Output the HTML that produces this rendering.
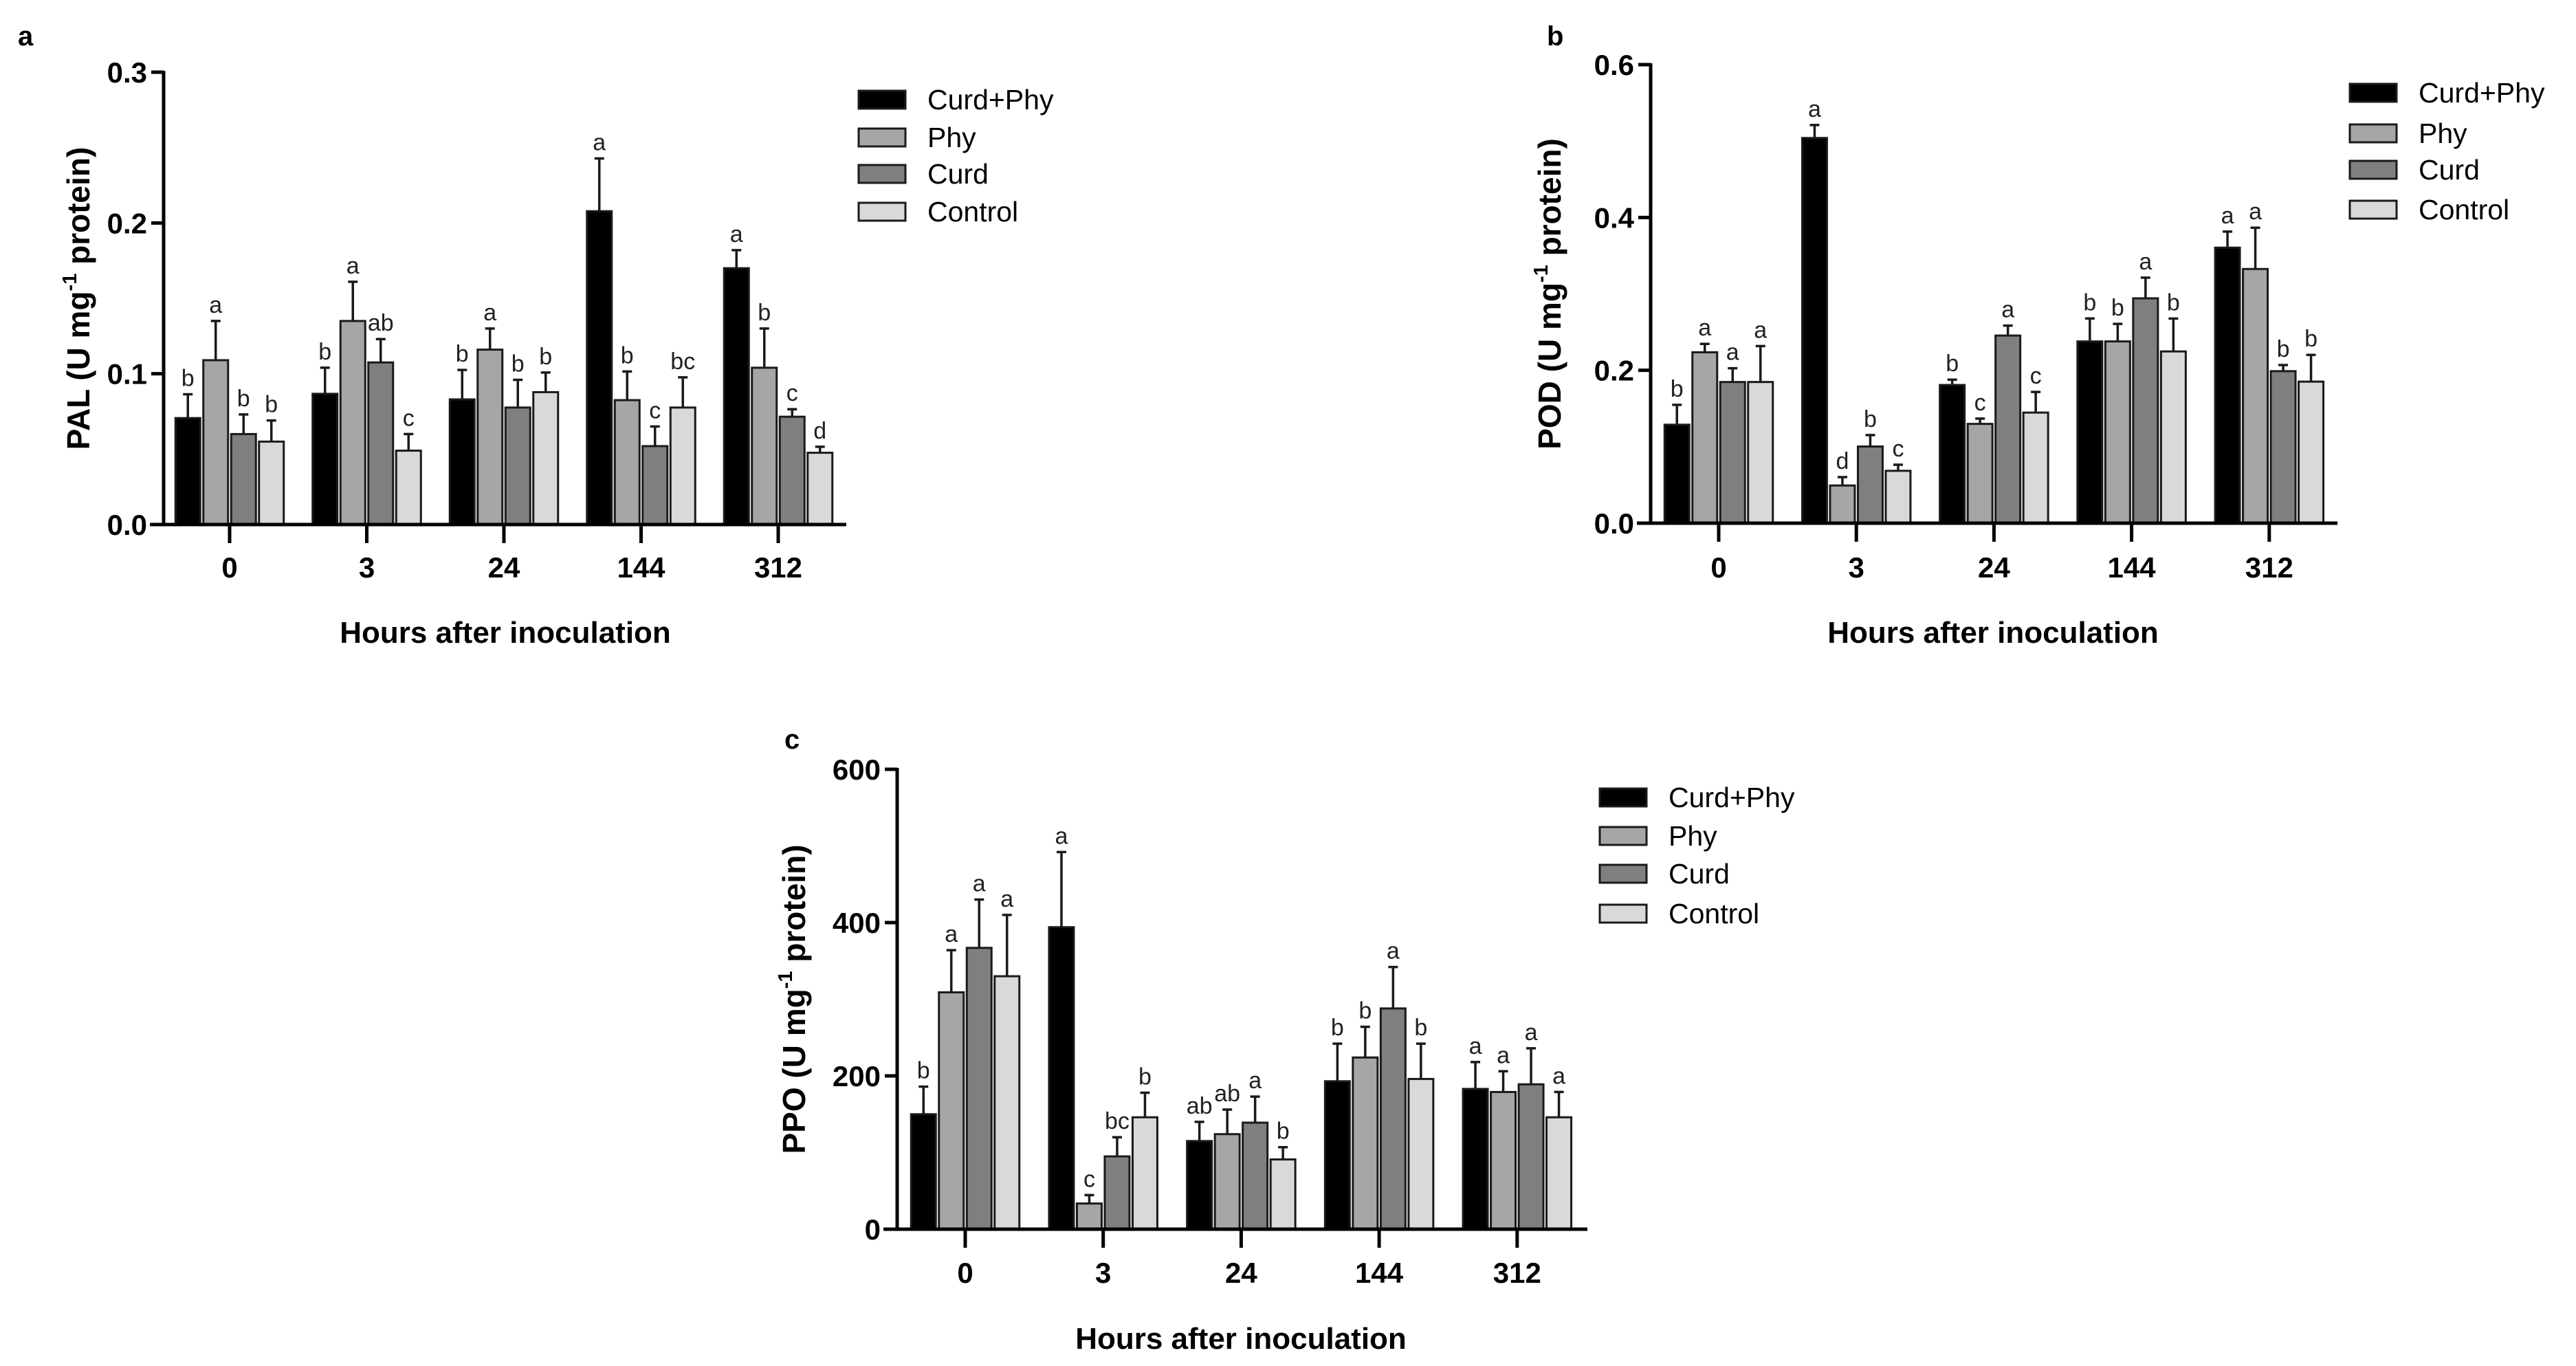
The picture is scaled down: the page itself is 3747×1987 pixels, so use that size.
<!DOCTYPE html>
<html><head><meta charset="utf-8"><style>
html,body{margin:0;padding:0;background:#fff;}
svg{display:block;}
text{font-family:"Liberation Sans",Arial,sans-serif;}
</style></head><body>
<svg id="fig" width="3747" height="1987" viewBox="0 0 3747 1987" xmlns="http://www.w3.org/2000/svg"></svg>
<script>
const categories = ["0","3","24","144","312"];
const seriesNames = ["Curd+Phy","Phy","Curd","Control"];
const seriesColors = ["#000000","#a6a6a6","#7f7f7f","#d9d9d9"];

const palTicks = ["0.0","0.1","0.2","0.3"];
const palCurdPhy = [0.0706,0.0867,0.083,0.2078,0.170];
const palPhy = [0.109,0.135,0.116,0.0825,0.104];
const palCurd = [0.060,0.1075,0.0776,0.052,0.0715];
const palControl = [0.055,0.049,0.0878,0.0776,0.0476];
const palErrCurdPhy = [0.0158,0.0173,0.0195,0.035,0.012];
const palErrPhy = [0.026,0.026,0.014,0.019,0.026];
const palErrCurd = [0.013,0.0155,0.0184,0.013,0.005];
const palErrControl = [0.014,0.011,0.013,0.020,0.004];
const palLetters = [["b","b","b","a","a"],["a","a","a","b","b"],["b","ab","b","c","c"],["b","c","b","bc","d"]];

const podTicks = ["0.0","0.2","0.4","0.6"];
const podCurdPhy = [0.1288,0.504,0.1808,0.2378,0.3605];
const podPhy = [0.2236,0.0493,0.1299,0.2378,0.3326];
const podCurd = [0.1847,0.1003,0.2455,0.2942,0.1989];
const podControl = [0.1847,0.0685,0.1447,0.2247,0.1852];
const podErrCurdPhy = [0.026,0.017,0.007,0.030,0.021];
const podErrPhy = [0.011,0.011,0.007,0.023,0.054];
const podErrCurd = [0.018,0.015,0.013,0.027,0.008];
const podErrControl = [0.047,0.008,0.027,0.043,0.035];
const podLetters = [["b","a","b","b","a"],["a","d","c","b","a"],["a","b","a","a","b"],["a","c","c","b","b"]];

const ppoTicks = ["0","200","400","600"];
const ppoCurdPhy = [150,394,115,193,183];
const ppoPhy = [309,33.5,124,224,179];
const ppoCurd = [367,95,139,288,189];
const ppoControl = [330,146,91,196,146];
const ppoErrCurdPhy = [36,98,25,49,35];
const ppoErrPhy = [55,11,32,40,27];
const ppoErrCurd = [63,25,34,54,47];
const ppoErrControl = [80,32,16,46,33];
const ppoLetters = [["b","a","ab","b","a"],["a","c","ab","b","a"],["a","bc","a","a","a"],["a","b","b","b","a"]];

const NS = "http://www.w3.org/2000/svg";
const fig = document.getElementById("fig");
function mk(tag, attrs, parent, txt){
  const e = document.createElementNS(NS, tag);
  for (const k in attrs) e.setAttribute(k, attrs[k]);
  if (txt !== undefined) e.textContent = txt;
  parent.appendChild(e);
  return e;
}

const panels = [
  {id:"pal", label:"a", labelX:26, labelY:66, yTitle:"PAL", ax:238, top:105, bottom:763, right:1231, firstTick:334, step:199.5, yMax:0.3,
   ticks:palTicks, tickVals:[0,0.1,0.2,0.3], vals:[palCurdPhy,palPhy,palCurd,palControl], errs:[palErrCurdPhy,palErrPhy,palErrCurd,palErrControl], letters:palLetters,
   titleX:735, titleY:935, yTitleX:130, legX:1249, legRows:[145,200,253,308], tickLabelY:840},
  {id:"pod", label:"b", labelX:2250, labelY:66, yTitle:"POD", ax:2401, top:94, bottom:761, right:3400, firstTick:2500, step:200.2, yMax:0.6,
   ticks:podTicks, tickVals:[0,0.2,0.4,0.6], vals:[podCurdPhy,podPhy,podCurd,podControl], errs:[podErrCurdPhy,podErrPhy,podErrCurd,podErrControl], letters:podLetters,
   titleX:2899, titleY:935, yTitleX:2270, legX:3418, legRows:[135,194,247,305], tickLabelY:840},
  {id:"ppo", label:"c", labelX:1141, labelY:1089, yTitle:"PPO", ax:1305, top:1119, bottom:1788, right:2309, firstTick:1404, step:200.7, yMax:600,
   ticks:ppoTicks, tickVals:[0,200,400,600], vals:[ppoCurdPhy,ppoPhy,ppoCurd,ppoControl], errs:[ppoErrCurdPhy,ppoErrPhy,ppoErrCurd,ppoErrControl], letters:ppoLetters,
   titleX:1805, titleY:1962, yTitleX:1171, legX:2327, legRows:[1160,1216,1271,1329], tickLabelY:1866}
];

panels.forEach(p => {
  const g = mk("g", {}, fig);
  
  
  const yS = v => p.bottom - (v / p.yMax) * (p.bottom - p.top);
  const barW = 36, barStep = 40.5;
  const xS = (ci, si) => p.firstTick + ci * p.step + (si - 1.5) * barStep;

  const pl = mk("text", {x:p.labelX, y:p.labelY, "font-size":40, "font-weight":"bold"}, g, p.label);
  
  

  p.vals.forEach((arr, si) => {
    arr.forEach((v, ci) => {
      const cx = xS(ci, si);
      const y = yS(v);
      const r = mk("rect", {x:cx - barW/2, y:y, width:barW, height:p.bottom - y, fill:seriesColors[si], stroke:"#1a1a1a", "stroke-width":3}, g);
      
      
      const ey = yS(v + p.errs[si][ci]);
      const eb = mk("path", {d:`M${cx} ${y} V${ey} M${cx-7} ${ey} H${cx+7}`, stroke:"#1a1a1a", "stroke-width":3.5, fill:"none"}, g);
      
      
      const lt = mk("text", {x:cx, y:ey - 12, "font-size":34, "text-anchor":"middle", fill:"#222"}, g, p.letters[si][ci]);
      
      
    });
  });

  const ya = mk("line", {x1:p.ax, y1:p.top - 2, x2:p.ax, y2:p.bottom + 2, stroke:"#000", "stroke-width":5}, g);
  
  
  const xa = mk("line", {x1:p.ax - 20, y1:p.bottom, x2:p.right, y2:p.bottom, stroke:"#000", "stroke-width":5}, g);
  
  

  p.ticks.forEach((t, i) => {
    const y = yS(p.tickVals[i]);
    mk("line", {x1:p.ax - 18, y1:y, x2:p.ax, y2:y, stroke:"#000", "stroke-width":5}, g);
    const tl = mk("text", {x:p.ax - 24, y:y + 15, "font-size":42, "font-weight":"bold", "text-anchor":"end"}, g, t);
    
    
  });
  categories.forEach((c, ci) => {
    const x = p.firstTick + ci * p.step;
    mk("line", {x1:x, y1:p.bottom, x2:x, y2:p.bottom + 27, stroke:"#000", "stroke-width":5}, g);
    const tl = mk("text", {x:x, y:p.tickLabelY, "font-size":42, "font-weight":"bold", "text-anchor":"middle"}, g, c);
    
    
  });

  const xt = mk("text", {x:p.titleX, y:p.titleY, "font-size":44, "font-weight":"bold", "text-anchor":"middle"}, g, "Hours after inoculation");
  
  

  const cy = (p.top + p.bottom) / 2;
  const yt = mk("text", {x:0, y:0, "font-size":46, "font-weight":"bold", "text-anchor":"middle", transform:`translate(${p.yTitleX},${cy}) rotate(-90)`}, g);
  
  
  mk("tspan", {}, yt, p.yTitle + " (U mg");
  mk("tspan", {"font-size":29, dy:-19}, yt, "-1");
  mk("tspan", {dy:19}, yt, " protein)");

  seriesNames.forEach((s, si) => {
    const lg = mk("g", {}, g);
    
    
    const ry = p.legRows[si];
    mk("rect", {x:p.legX, y:ry - 13, width:68, height:26, fill:seriesColors[si], stroke:"#1a1a1a", "stroke-width":3}, lg);
    mk("text", {x:p.legX + 100, y:ry + 14, "font-size":41}, lg, s);
  });
});
</script>
</body></html>
